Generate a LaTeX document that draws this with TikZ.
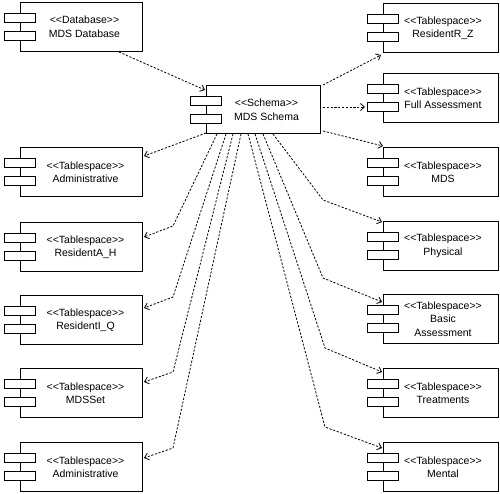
\documentclass[tikz,border=0pt]{standalone}
\usepackage{fontspec}
\setmainfont{Liberation Sans}
\usetikzlibrary{arrows.meta,calc}
\newcommand\stL{<\kern0pt<}
\newcommand\stR{>\kern0pt>}
\begin{document}
\begin{tikzpicture}[x=1pt,y=-1pt,
  comp/.style={draw,line width=1pt,fill=white,minimum width=#1,minimum height=49pt,inner sep=0pt,anchor=north west},
  tabst/.style={draw,line width=1pt,fill=white},
  lbl/.style={align=center,font=\fontsize{10.5}{13.5}\selectfont,inner sep=0pt},
  conn/.style={draw,line width=0.8pt,dash pattern=on 2.2pt off 1.6pt,-{Straight Barb[length=4pt,width=7pt]}}]
\path[use as bounding box,fill=white] (0,0) rectangle (500,494);
% left column
\node[comp=122pt] (db) at (20,2) {};
\node[comp=122pt] (adm1) at (20,147) {};
\node[comp=122pt] (rah) at (20,222) {};
\node[comp=122pt] (riq) at (20,295) {};
\node[comp=122pt] (mdsset) at (20,368) {};
\node[comp=122pt] (adm2) at (20,442) {};
% right column
\node[comp=115pt] (rrz) at (383,3) {};
\node[comp=115pt] (full) at (383,73) {};
\node[comp=115pt] (mds) at (383,147) {};
\node[comp=115pt] (phys) at (383,221) {};
\node[comp=115pt] (basic) at (383,294) {};
\node[comp=115pt] (treat) at (383,368) {};
\node[comp=115pt] (mental) at (383,442) {};
% schema
\node[comp=114pt,minimum height=48pt] (schema) at (206,85) {};
% tabs
\foreach \n in {db,adm1,rah,riq,mdsset,adm2,rrz,full,mds,phys,basic,treat,mental,schema}{
  \draw[tabst] ($(\n.north west)+(-16,11.5)$) rectangle +(31,9);
  \draw[tabst] ($(\n.north west)+(-16,29.5)$) rectangle +(31,9);
}
% labels
\node[lbl] (dbT) at ($(db.center)+(3,0)$) {\stL Database\stR\\MDS Database};
\node[lbl] (adm1T) at ($(adm1.center)+(4,0)$) {\stL Tablespace\stR\\Administrative};
\node[lbl] (rahT) at ($(rah.center)+(4,0)$) {\stL Tablespace\stR\\ResidentA\_H};
\node[lbl] (riqT) at ($(riq.center)+(4,0)$) {\stL Tablespace\stR\\ResidentI\_Q};
\node[lbl] (mdssetT) at ($(mdsset.center)+(4,0)$) {\stL Tablespace\stR\\MDSSet};
\node[lbl] (adm2T) at ($(adm2.center)+(4,0)$) {\stL Tablespace\stR\\Administrative};
\node[lbl] (rrzT) at ($(rrz.center)+(2,0)$) {\stL Tablespace\stR\\ResidentR\_Z};
\node[lbl] (fullT) at ($(full.center)+(2,0)$) {\stL Tablespace\stR\\Full Assessment};
\node[lbl] (mdsT) at ($(mds.center)+(2,0)$) {\stL Tablespace\stR\\MDS};
\node[lbl] (physT) at ($(phys.center)+(2,0)$) {\stL Tablespace\stR\\Physical};
\node[lbl] (basicT) at ($(basic.center)+(2,0)$) {\stL Tablespace\stR\\Basic\\Assessment};
\node[lbl] (treatT) at ($(treat.center)+(2,0)$) {\stL Tablespace\stR\\Treatments};
\node[lbl] (mentalT) at ($(mental.center)+(2,0)$) {\stL Tablespace\stR\\Mental};
\node[lbl] (schemaT) at ($(schema.center)+(3,0)$) {\stL Schema\stR\\MDS Schema};
% straight connectors
\draw[conn] ($(db.south east)+(-24,0)$) -- ($(schema.north west)+(-1,5)$);
\draw[conn] ($(schema.north east)+(2,0)$) -- ($(rrz.south west)+(-2,2)$);
\draw[conn] ($(schema.north east)+(2,22)$) -- ($(full.north west)+(-18,34)$);
\draw[conn] ($(schema.south east)+(2,-3)$) -- ($(mds.north west)+(0,-1)$);
\draw[conn] ($(schema.south west)+(0,-1)$) -- ($(adm1.north east)+(1,9)$);
% left bent connectors
\draw[conn] ($(schema.south west)+(11,0)$) -- ($(rah.north east)+(30,4)$) -- ($(rah.north east)+(1,15)$);
\draw[conn] ($(schema.south west)+(20,0)$) -- ($(riq.north east)+(30,2)$) -- ($(riq.north east)+(1,13)$);
\draw[conn] ($(schema.south west)+(27,0)$) -- ($(mdsset.north east)+(30,4)$) -- ($(mdsset.north east)+(1,14)$);
\draw[conn] ($(schema.south west)+(35,0)$) -- ($(adm2.north east)+(30,6)$) -- ($(adm2.north east)+(1,16)$);
% right bent connectors
\draw[conn] ($(schema.south west)+(67,0)$) -- ($(phys.north west)+(-60,-21)$) -- ($(phys.north west)+(-1,1)$);
\draw[conn] ($(schema.south west)+(57,0)$) -- ($(basic.north west)+(-60,-16)$) -- ($(basic.north west)+(-1,8)$);
\draw[conn] ($(schema.south west)+(49,0)$) -- ($(treat.north west)+(-58,-20)$) -- ($(treat.north west)+(-1,4)$);
\draw[conn] ($(schema.south west)+(42,0)$) -- ($(mental.north west)+(-58,-15)$) -- ($(mental.north west)+(-1,6)$);
\end{tikzpicture}
\end{document}
